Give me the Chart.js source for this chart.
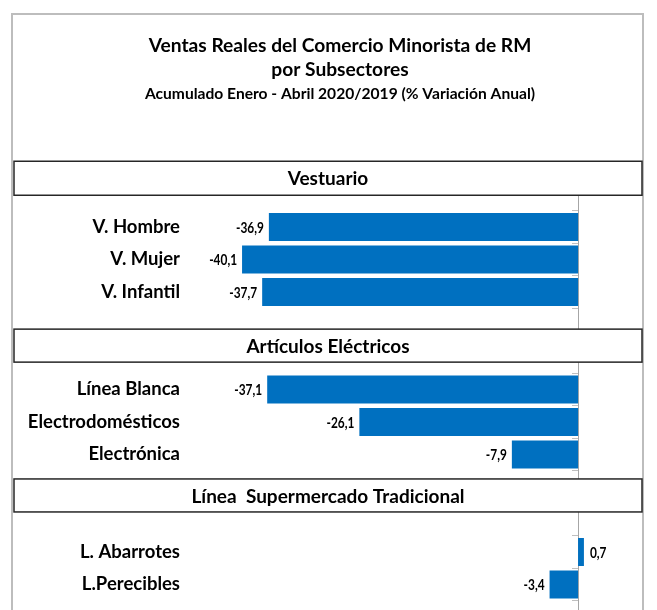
<!DOCTYPE html>
<html>
<head>
<meta charset="utf-8">
<script src="https://cdn.jsdelivr.net/npm/chart.js@4"></script>
<style>
  html, body { margin: 0; padding: 0; background: #ffffff; overflow: hidden; }
  #wrap { position: relative; width: 657px; height: 610px; }
</style>
</head>
<body>
<div id="wrap"><canvas id="c" width="657" height="610"></canvas></div>
<script>
// ---- Data ----
const titleLines = ['Ventas Reales del Comercio Minorista de RM', 'por Subsectores'];
const subtitleText = 'Acumulado Enero - Abril 2020/2019 (% Variación Anual)';

const sectionTitles = ['Vestuario', 'Artículos Eléctricos', 'Línea  Supermercado Tradicional'];

const vestuarioLabels = ['V. Hombre', 'V. Mujer', 'V. Infantil'];
const vestuarioValues = [-36.9, -40.1, -37.7];

const electricosLabels = ['Línea Blanca', 'Electrodomésticos', 'Electrónica'];
const electricosValues = [-37.1, -26.1, -7.9];

const supermercadoLabels = ['L. Abarrotes', 'L.Perecibles'];
const supermercadoValues = [0.7, -3.4];

// ---- Build category table (blank rows hold the section header boxes) ----
const labels = [''].concat(vestuarioLabels, ['', ''], electricosLabels, ['', ''], supermercadoLabels);
const values = [null].concat(vestuarioValues, [null, null], electricosValues, [null, null], supermercadoValues);

// header box positions expressed in category-index units of the y scale
const headerBoxes = [
  { text: sectionTitles[0], center: -0.5, h: 34 },
  { text: sectionTitles[1], center: 4.65, h: 33 },
  { text: sectionTitles[2], center: 9.26, h: 33 }
];

const FONT = 'Lato, "Open Sans", sans-serif';

const decor = {
  id: 'decor',
  beforeDraw(chart) {
    const ctx = chart.ctx;
    ctx.save();
    ctx.fillStyle = '#ffffff';
    ctx.fillRect(0, 0, chart.width, chart.height);
    ctx.strokeStyle = '#bdbdbd';
    ctx.lineWidth = 2;
    ctx.strokeRect(12, 14, 631, chart.height + 20);
    // titles
    ctx.fillStyle = '#000000';
    ctx.textAlign = 'center';
    ctx.textBaseline = 'middle';
    ctx.font = 'bold 19.2px ' + FONT;
    ctx.fillText(titleLines[0], 340, 46);
    ctx.fillText(titleLines[1], 340, 70);
    ctx.font = 'bold 15.6px ' + FONT;
    ctx.fillText(subtitleText, 340, 94);
    ctx.restore();
  },
  afterDatasetsDraw(chart) {
    const ctx = chart.ctx;
    const meta = chart.getDatasetMeta(0);
    const sx = 0.82;
    ctx.save();
    ctx.font = 'bold 14.5px ' + FONT;
    ctx.fillStyle = '#000000';
    ctx.textBaseline = 'middle';
    meta.data.forEach((bar, i) => {
      const v = values[i];
      if (v === null || v === undefined) return;
      const txt = v.toFixed(1).replace('.', ',');
      ctx.save();
      if (v < 0) {
        ctx.translate(bar.x - 5, bar.y + 1);
        ctx.scale(sx, 1);
        ctx.textAlign = 'right';
      } else {
        ctx.translate(bar.x + 6, bar.y + 1);
        ctx.scale(sx, 1);
        ctx.textAlign = 'left';
      }
      ctx.fillText(txt, 0, 0);
      ctx.restore();
    });
    ctx.restore();
  },
  afterDraw(chart) {
    const ctx = chart.ctx;
    const y = chart.scales.y;
    const x = chart.scales.x;
    ctx.save();
    // extend zero axis line to bottom of picture
    const zx = Math.round(x.getPixelForValue(0)) + 0.5;
    ctx.strokeStyle = '#a6a6a6';
    ctx.lineWidth = 1;
    ctx.beginPath();
    ctx.moveTo(zx, chart.chartArea.bottom);
    ctx.lineTo(zx, chart.height);
    ctx.stroke();
    // section header boxes
    headerBoxes.forEach(b => {
      const cy = y.getPixelForValue(b.center);
      const top = cy - b.h / 2;
      ctx.fillStyle = '#ffffff';
      ctx.fillRect(14, top, 628, b.h);
      ctx.strokeStyle = '#262626';
      ctx.lineWidth = 1.5;
      ctx.strokeRect(14, top, 628, b.h);
      ctx.fillStyle = '#000000';
      ctx.font = 'bold 19px ' + FONT;
      ctx.textAlign = 'center';
      ctx.textBaseline = 'middle';
      ctx.fillText(b.text, 328, cy + 1);
    });
    ctx.restore();
  }
};

new Chart(document.getElementById('c'), {
  type: 'bar',
  data: {
    labels: labels,
    datasets: [{
      data: values,
      backgroundColor: '#0070c0',
      borderWidth: 0,
      barPercentage: 0.86,
      categoryPercentage: 1.0
    }]
  },
  options: {
    indexAxis: 'y',
    responsive: false,
    animation: false,
    devicePixelRatio: 1,
    layout: { padding: { left: 10, right: 14, top: 178.25, bottom: 9.25 } },
    plugins: {
      legend: { display: false },
      tooltip: { enabled: false },
      title: { display: false },
      subtitle: { display: false }
    },
    scales: {
      x: {
        type: 'linear',
        min: -45,
        max: 7.75,
        display: false
      },
      y: {
        type: 'category',
        position: 'left',
        offset: true,
        grid: { display: true, color: 'rgba(0,0,0,0)', drawOnChartArea: false, drawTicks: true, tickLength: 21, offset: true },
        border: { display: false },
        ticks: {
          autoSkip: false,
          padding: 0,
          color: '#000000',
          font: { family: FONT, size: 18.5, weight: 'bold', lineHeight: 0.9 }
        },
        afterFit(scale) { scale.width = 191; }
      },
      y2: {
        type: 'category',
        axis: 'y',
        position: { x: 0 },
        offset: true,
        grid: { offset: true, drawOnChartArea: false, drawTicks: true, tickLength: 6, color: '#bfbfbf' },
        border: { display: true, color: '#a6a6a6', width: 1 },
        ticks: { display: false }
      }
    }
  },
  plugins: [decor]
});
</script>
</body>
</html>
